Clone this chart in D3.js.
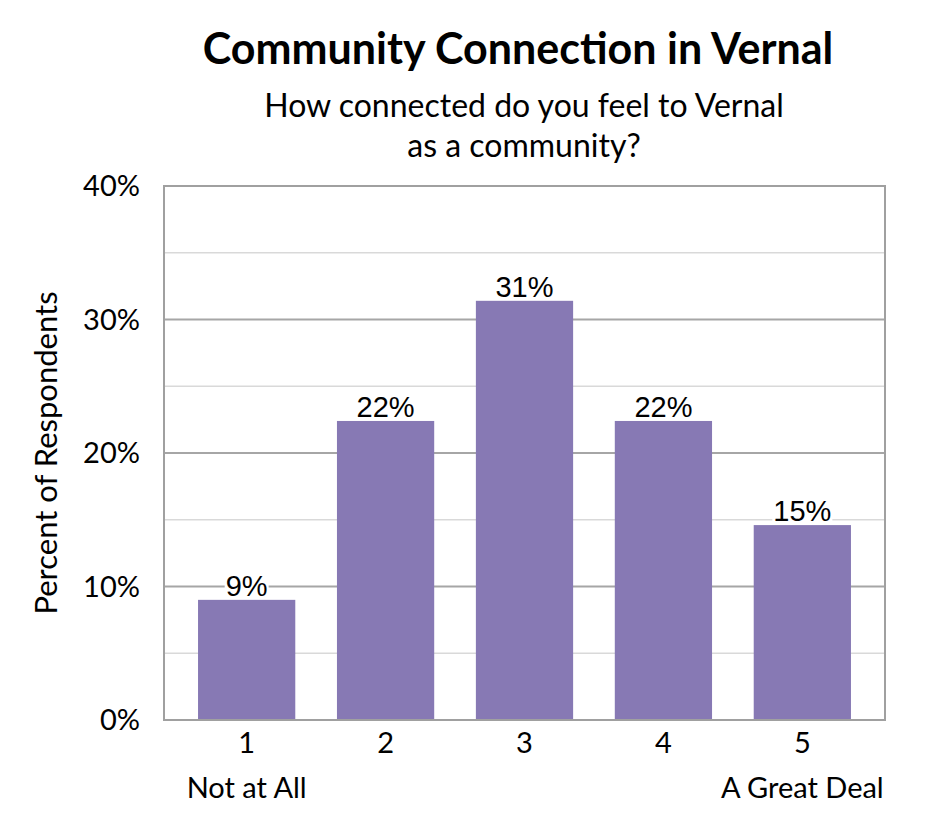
<!DOCTYPE html>
<html>
<head>
<meta charset="utf-8">
<script src="https://cdn.jsdelivr.net/npm/d3@7"></script>
<style>
  body { margin: 0; background: #fff; }
  svg text { fill: #000; }
</style>
</head>
<body>
<svg id="chart" width="945" height="840"></svg>
<script>
// values (percent of respondents)
var categories = ["1", "2", "3", "4", "5"];
var subLabels = ["Not at All", "", "", "", "A Great Deal"];
var values = [9.0, 22.4, 31.4, 22.4, 14.6];
var yTicks = [0, 10, 20, 30, 40];

var svg = d3.select("#chart");
var margin = { left: 164, right: 60, top: 186, bottom: 120 };
var width = 945 - margin.left - margin.right;
var height = 840 - margin.top - margin.bottom;

var x = d3.scaleBand()
  .domain(categories)
  .range([0, width])
  .paddingInner(0.30)
  .paddingOuter(0.245);

var y = d3.scaleLinear()
  .domain([0, 40])
  .range([height, 0]);

var g = svg.append("g")
  .attr("transform", "translate(" + margin.left + "," + margin.top + ")");

// minor gridlines every 5%
g.selectAll("line.minor")
  .data(d3.range(5, 40, 10))
  .enter().append("line")
  .attr("class", "minor")
  .attr("x1", 0).attr("x2", width)
  .attr("y1", function(d) { return y(d); })
  .attr("y2", function(d) { return y(d); })
  .attr("stroke", "#d9d9d9")
  .attr("stroke-width", 1.5);

// major gridlines
g.selectAll("line.major")
  .data(yTicks)
  .enter().append("line")
  .attr("class", "major")
  .attr("x1", 0).attr("x2", width)
  .attr("y1", function(d) { return y(d); })
  .attr("y2", function(d) { return y(d); })
  .attr("stroke", "#a6a6a6")
  .attr("stroke-width", 2);

// bars
g.selectAll("rect.bar")
  .data(values)
  .enter().append("rect")
  .attr("class", "bar")
  .attr("x", function(d, i) { return x(categories[i]); })
  .attr("width", x.bandwidth())
  .attr("y", function(d) { return y(d); })
  .attr("height", function(d) { return height - y(d); })
  .attr("fill", "#8779b4");

// plot border
g.append("rect")
  .attr("x", 0).attr("y", 0)
  .attr("width", width).attr("height", height)
  .attr("fill", "none")
  .attr("stroke", "#a0a0a0")
  .attr("stroke-width", 2);

// value labels with white backing (stops just above the bar)
var lab = g.selectAll("g.vlabel")
  .data(values)
  .enter().append("g")
  .attr("class", "vlabel")
  .attr("transform", function(d, i) {
    return "translate(" + (x(categories[i]) + x.bandwidth() / 2) + "," + (y(d) - 4) + ")";
  });

lab.append("text")
  .attr("text-anchor", "middle")
  .style("font-family", "'Liberation Sans', Arial, sans-serif")
  .style("font-size", "29px")
  .text(function(d) { return Math.round(d) + "%"; })
  .each(function() {
    var b = this.getBBox();
    d3.select(this.parentNode).insert("rect", "text")
      .attr("x", b.x - 1).attr("y", b.y + 4)
      .attr("width", b.width + 2).attr("height", 2 - (b.y + 4))
      .attr("fill", "#fff");
  });

var tickFont = "Lato, 'Open Sans', sans-serif";

// y axis tick labels
g.selectAll("text.ytick")
  .data(yTicks)
  .enter().append("text")
  .attr("class", "ytick")
  .attr("x", -24)
  .attr("y", function(d) { return y(d); })
  .attr("dy", "0.36em")
  .attr("text-anchor", "end")
  .style("font-family", tickFont)
  .style("font-size", "29px")
  .text(function(d) { return d + "%"; });

// x axis tick labels
g.selectAll("text.xtick")
  .data(categories)
  .enter().append("text")
  .attr("class", "xtick")
  .attr("x", function(d) { return x(d) + x.bandwidth() / 2; })
  .attr("y", height + 33)
  .attr("text-anchor", "middle")
  .style("font-family", tickFont)
  .style("font-size", "29px")
  .text(function(d) { return d; });

g.selectAll("text.xsub")
  .data(subLabels)
  .enter().append("text")
  .attr("class", "xsub")
  .attr("x", function(d, i) { return x(categories[i]) + x.bandwidth() / 2; })
  .attr("y", height + 78)
  .attr("text-anchor", "middle")
  .style("font-family", tickFont)
  .style("font-size", "29px")
  .text(function(d) { return d; });

// y axis title
svg.append("text")
  .attr("transform", "translate(57," + (margin.top + height / 2) + ") rotate(-90)")
  .attr("text-anchor", "middle")
  .style("font-family", tickFont)
  .style("font-size", "31px")
  .text("Percent of Respondents");

// titles
svg.append("text")
  .attr("x", 518).attr("y", 64)
  .attr("text-anchor", "middle")
  .style("font-family", tickFont)
  .style("font-weight", "bold")
  .style("font-size", "43px")
  .text("Community Connection in Vernal");

svg.selectAll("text.sub")
  .data(["How connected do you feel to Vernal", "as a community?"])
  .enter().append("text")
  .attr("class", "sub")
  .attr("x", 524)
  .attr("y", function(d, i) { return 117 + i * 40; })
  .attr("text-anchor", "middle")
  .style("font-family", tickFont)
  .style("font-size", "32px")
  .text(function(d) { return d; });
</script>
</body>
</html>
